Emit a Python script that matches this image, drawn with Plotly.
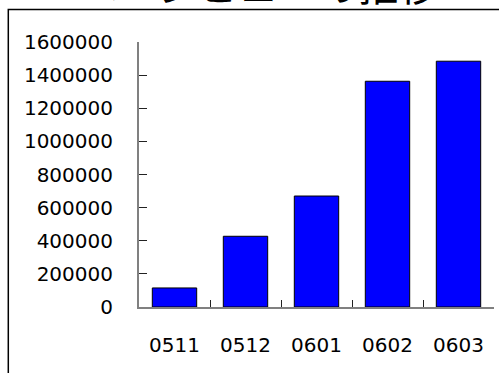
import plotly.graph_objects as go

# Monthly page views
months = ["0511", "0512", "0601", "0602", "0603"]
page_views = [115000, 427000, 670000, 1363000, 1484000]
y_ticks = [0, 200000, 400000, 600000, 800000, 1000000, 1200000, 1400000, 1600000]

W, H = 499, 373
ML, MR, MT, MB = 139, 5, 42, 66
PW, PH = W - ML - MR, H - MT - MB


def px_x(p):
    return (p - ML) / PW


def px_y(p):
    return (H - MB - p) / PH


fig = go.Figure(
    go.Bar(
        x=months,
        y=page_views,
        marker=dict(color="#0000FF", line=dict(color="#000000", width=1)),
    )
)

fig.update_layout(
    width=W,
    height=H,
    margin=dict(l=ML, r=MR, t=MT, b=MB),
    paper_bgcolor="white",
    plot_bgcolor="white",
    bargap=0.375,
    showlegend=False,
    font=dict(family="DejaVu Sans", size=20, color="black"),
    xaxis=dict(
        type="category",
        showline=True,
        linecolor="#808080",
        linewidth=2,
        ticks="inside",
        tickson="boundaries",
        ticklen=7,
        tickcolor="#222222",
        tickwidth=1,
        showgrid=False,
        ticklabelstandoff=19,
        tickfont=dict(family="DejaVu Sans", size=20, color="black"),
    ),
    yaxis=dict(
        range=[0, 1600000],
        tickvals=y_ticks,
        ticktext=[str(v) for v in y_ticks],
        showline=True,
        linecolor="#808080",
        linewidth=2,
        ticks="inside",
        ticklen=8,
        tickcolor="#222222",
        tickwidth=1,
        showgrid=False,
        zeroline=False,
        ticklabelstandoff=20,
        tickfont=dict(family="DejaVu Sans", size=20, color="black"),
    ),
    shapes=[
        dict(
            type="rect",
            xref="paper",
            yref="paper",
            x0=px_x(8.3),
            x1=px_x(560),
            y0=px_y(440),
            y1=px_y(9.5),
            line=dict(color="black", width=1.5),
            fillcolor="rgba(0,0,0,0)",
            layer="below",
        )
    ],
    annotations=[
        dict(
            text="ページビューの推移",
            xref="paper",
            yref="paper",
            x=px_x(258),
            y=px_y(-16),
            xanchor="center",
            yanchor="middle",
            showarrow=False,
            font=dict(family="Noto Sans CJK JP", size=40, color="black"),
        )
    ],
)

fig.write_html("out.html")
